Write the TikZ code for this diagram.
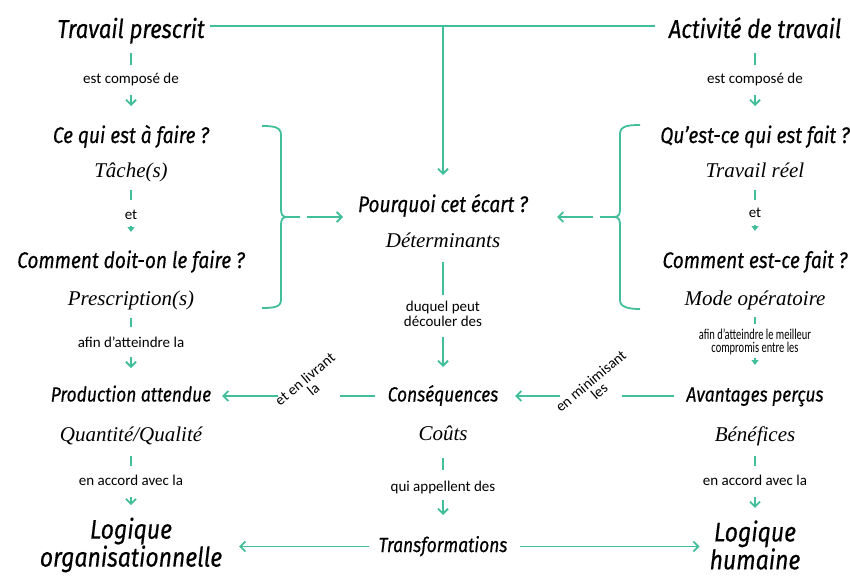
\documentclass[tikz,border=0pt]{standalone}
\usepackage{fontspec}
\usetikzlibrary{arrows.meta}
\newfontfamily\handfont[FakeStretch=0.85, FakeBold=0.4]{Fira Sans}
\newfontfamily\subfont{Liberation Serif}
\newfontfamily\notefont{Carlito}
\newfontfamily\notenarrow[FakeStretch=0.7]{Carlito}
\definecolor{linkgreen}{RGB}{66,190,152}

\begin{document}
\begin{tikzpicture}[x=1pt,y=-1pt,
  every node/.style={inner sep=0pt, outer sep=0pt},
  titlebig/.style={font=\handfont\itshape\fontsize{26}{28}\selectfont, text height=20pt, text depth=7pt, anchor=base},
  titlemid/.style={font=\handfont\itshape\fontsize{22.5}{25}\selectfont, text height=17pt, text depth=6pt, anchor=base},
  titlerow/.style={font=\handfont\itshape\fontsize{20.5}{23}\selectfont, text height=16pt, text depth=5pt, anchor=base},
  logic/.style={font=\handfont\itshape\fontsize{27}{25}\selectfont, align=center},
  subtext/.style={font=\subfont\itshape\fontsize{21}{23}\selectfont, text height=14pt, text depth=5pt, anchor=base},
  notetext/.style={font=\notefont\fontsize{15}{15}\selectfont, text height=11pt, text depth=4pt, anchor=base},
  notetwo/.style={font=\notefont\fontsize{15}{15}\selectfont, align=center},
  notecond/.style={font=\notenarrow\fontsize{15}{13}\selectfont, align=center},
  notetilt/.style={font=\notefont\fontsize{15}{13}\selectfont, align=center, rotate=40},
  link/.style={draw=linkgreen, line width=1.8pt},
  arr/.style={link, -{Straight Barb[length=5pt,width=10pt]}},
  arrsmall/.style={link, -{Triangle[length=5pt,width=7pt]}},
]
\useasboundingbox (0,0) rectangle (850,577);

% ---- prescribed work (left column)
\node[titlebig, minimum width=147pt] (tp) at (131,38) {Travail prescrit};
\node[notetext] (lc1) at (131,84) {est composé de};
\node[titlemid] (lq1) at (131,143) {Ce qui est à faire ?};
\node[subtext] (ls1) at (131,178) {Tâche(s)};
\node[notetext] (lc2) at (131,219) {et};
\node[titlemid] (lq2) at (131,268) {Comment doit-on le faire ?};
\node[subtext] (ls2) at (131,305) {Prescription(s)};
\node[notetext] (lc3) at (131,347) {afin d’atteindre la};
\node[titlerow, minimum width=165pt] (lq3) at (131,401.5) {Production attendue};
\node[subtext] (ls3) at (131,441) {Quantité/Qualité};
\node[notetext] (lc4) at (131,485) {en accord avec la};
\node[logic, minimum width=168pt] (lg1) at (131,545) {Logique\\organisationnelle};

% ---- actual activity (right column)
\node[titlebig, minimum width=173pt] (ta) at (755,38) {Activité de travail};
\node[notetext] (rc1) at (755,84) {est composé de};
\node[titlemid] (rq1) at (755,143) {Qu’est-ce qui est fait ?};
\node[subtext] (rs1) at (755,178) {Travail réel};
\node[notetext] (rc2) at (755,218) {et};
\node[titlemid] (rq2) at (755,268) {Comment est-ce fait ?};
\node[subtext] (rs2) at (755,305) {Mode opératoire};
\node[notecond] (rc3) at (755,342) {afin d’atteindre le meilleur\\compromis entre les};
\node[titlerow, minimum width=132pt] (rq3) at (755,401.5) {Avantages perçus};
\node[subtext] (rs3) at (755,441) {Bénéfices};
\node[notetext] (rc4) at (755,485) {en accord avec la};
\node[logic, minimum width=80pt] (lg2) at (755,545) {Logique\\humaine};

% ---- the gap between both (centre column)
\node[titlemid, minimum width=174pt] (pq) at (443,212) {Pourquoi cet écart ?};
\node[subtext] (dt) at (443,247) {Déterminants};
\node[notetwo] (dq) at (443,314) {duquel peut\\découler des};
\node[titlerow, minimum width=113pt] (cs) at (443,401.5) {Conséquences};
\node[subtext] (co) at (443,440) {Coûts};
\node[notetext] (ap) at (443,491) {qui appellent des};
\node[titlerow, minimum width=122pt] (tf) at (443,552) {Transformations};
\node[notetilt] (lv) at (309,384) {et en livrant\\la};
\node[notetilt] (mn) at (595,386) {en minimisant\\les};

% ---- top link and its branch down to the question
\coordinate (j) at (443,26);
\draw[link, shorten <=5.5pt, shorten >=13.5pt] (tp.east |- j) -- (ta.west |- j);
\draw[arr, shorten >=20pt] (j) -- (pq);

% ---- left column links
\draw[link, shorten <=8pt, shorten >=8pt] (tp) -- (lc1);
\draw[arr, shorten <=7pt, shorten >=20pt] (lc1) -- (lq1);
\draw[link, shorten <=7pt, shorten >=8pt] (ls1) -- (lc2);
\draw[arrsmall, shorten <=3pt, shorten >=19pt] (lc2) -- (lq2);
\draw[link, shorten <=8pt, shorten >=9pt] (ls2) -- (lc3);
\draw[arr, shorten <=6pt, shorten >=17.5pt] (lc3) -- (lq3);
\draw[link, shorten <=10pt, shorten >=8pt] (ls3) -- (lc4);
\draw[arr, shorten <=8pt, shorten >=12.5pt] (lc4) -- (lg1);

% ---- right column links
\draw[link, shorten <=8pt, shorten >=8pt] (ta) -- (rc1);
\draw[arr, shorten <=7pt, shorten >=20pt] (rc1) -- (rq1);
\draw[link, shorten <=7pt, shorten >=7pt] (rs1) -- (rc2);
\draw[arrsmall, shorten <=3pt, shorten >=20pt] (rc2) -- (rq2);
\draw[link, shorten <=7pt, shorten >=5pt] (rs2) -- (rc3);
\draw[arrsmall, shorten <=3pt, shorten >=20.5pt] (rc3) -- (rq3);
\draw[link, shorten <=10pt, shorten >=8pt] (rs3) -- (rc4);
\draw[arr, shorten <=8pt, shorten >=12.5pt] (rc4) -- (lg2);

% ---- centre column links
\draw[link, shorten <=10pt, shorten >=6pt] (dt) -- (dq);
\draw[arr, shorten <=10pt, shorten >=18.5pt] (dq) -- (cs);
\draw[link, shorten <=13pt, shorten >=10pt] (co) -- (ap);
\draw[arr, shorten <=5pt, shorten >=21pt] (ap) -- (tf);

% ---- braces gathering the two questions of each side
\draw[link] (262,126) .. controls (274,126) and (281,127) .. (281,135) -- (281,209)
  .. controls (281,214) and (282,217) .. (287,217) -- (300,217);
\draw[link] (287,217) .. controls (282,217) and (281,220) .. (281,225) -- (281,300)
  .. controls (281,307) and (274,308) .. (262,308);
\draw[link] (640,125) .. controls (628,125) and (620,126) .. (620,134) -- (620,209)
  .. controls (620,214) and (619,217) .. (614,217) -- (600,217);
\draw[link] (614,217) .. controls (619,217) and (620,220) .. (620,225) -- (620,300)
  .. controls (620,307) and (628,309) .. (640,309);
\coordinate (bl) at (307,217);
\coordinate (br) at (593,217);
\draw[arr, shorten >=13pt] (bl) -- (bl -| pq.west);
\draw[arr, shorten >=27pt] (br) -- (br -| pq.east);

% ---- middle row: consequences toward both sides
\draw[link, shorten <=11.5pt] (cs.west) -- ([xshift=-46.5pt]cs.west);
\draw[arr, shorten >=8.5pt] ([xshift=-108.5pt]cs.west) -- (lq3.east);
\draw[link, shorten <=12pt] (rq3.west) -- ([xshift=-64pt]rq3.west);
\draw[arr, shorten >=15.5pt] ([xshift=-126pt]rq3.west) -- (cs.east);

% ---- bottom row: transformations toward both logics
\draw[arr, shorten <=10pt, shorten >=17pt] (tf.west) -- (tf.west -| lg1.east);
\draw[arr, shorten <=13pt, shorten >=10pt] (tf.east) -- (tf.east -| lg2.west);
\end{tikzpicture}
\end{document}
